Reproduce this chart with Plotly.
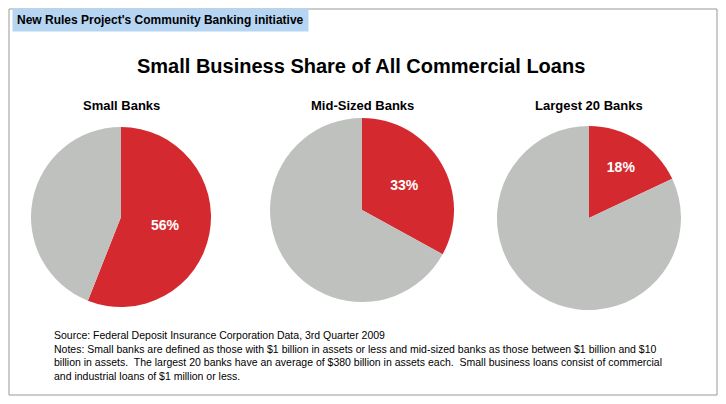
import plotly.graph_objects as go

groups = ["Small Banks", "Mid-Sized Banks", "Largest 20 Banks"]
small_biz_share = [56, 33, 18]
colors = ["#d42a2f", "#bfc1bf"]

# the page body adds an 8px margin, so the figure is drawn 16px smaller and shifted
OFF = 8
W, H = 726 - 2 * OFF, 404 - 2 * OFF


def px(x):
    return (x - OFF) / W


def py(y):
    return 1 - (y - OFF) / H


# pie boxes in pixels of the reference: (x0, x1, y0, y1) from the top
boxes = [(31, 211, 127, 307), (270, 454, 118, 302), (497, 681, 126, 310)]
title_x = [121, 362, 589]

fig = go.Figure()
for g, v, b in zip(groups, small_biz_share, boxes):
    fig.add_trace(go.Pie(
        values=[v, 100 - v], labels=["Small business", "Other"],
        text=[f"<b>{v}%</b>", ""], textinfo="text", textposition="inside",
        insidetextfont=dict(color="white", size=14, family="Liberation Sans, Arial"),
        marker=dict(colors=colors, line=dict(width=0)),
        sort=False, direction="clockwise", rotation=0, hoverinfo="skip",
        domain=dict(x=[px(b[0]), px(b[1])], y=[py(b[3]), py(b[2])]),
        showlegend=False,
    ))

ann = [
    dict(text="<b>Small Business Share of All Commercial Loans</b>", x=361, y=66, font=dict(size=20)),
    dict(text="<b>New Rules Project's Community Banking initiative</b>", x=12, y=20, xanchor="left",
         font=dict(size=12), bgcolor="#b5d5f2", borderpad=4),
]
for g, x in zip(groups, title_x):
    ann.append(dict(text=f"<b>{g}</b>", x=x, y=105, font=dict(size=13)))
notes = ("Source: Federal Deposit Insurance Corporation Data, 3rd Quarter 2009<br>"
         "Notes: Small banks are defined as those with $1 billion in assets or less and mid-sized banks as those between $1 billion and $10<br>"
         "billion in assets.  The largest 20 banks have an average of $380 billion in assets each.  Small business loans consist of commercial<br>"
         "and industrial loans of $1 million or less.")
ann.append(dict(text=notes, x=52, y=327, xanchor="left", yanchor="top", align="left",
                font=dict(size=10.5)))
for a in ann:
    a.setdefault("xanchor", "center")
    a.setdefault("yanchor", "middle")
    a["x"] = px(a["x"])
    a["y"] = py(a["y"])
    a.update(xref="paper", yref="paper", showarrow=False)
    a["font"].setdefault("color", "black")
    a["font"]["family"] = "Liberation Sans, Arial"

fig.update_layout(
    width=W, height=H, margin=dict(l=0, r=0, t=0, b=0),
    paper_bgcolor="white", plot_bgcolor="white", annotations=ann,
    shapes=[dict(type="rect", xref="paper", yref="paper", x0=px(9), x1=px(717), y0=py(395), y1=py(9),
                 line=dict(color="#999999", width=1))],
)
fig.write_html("out.html")
